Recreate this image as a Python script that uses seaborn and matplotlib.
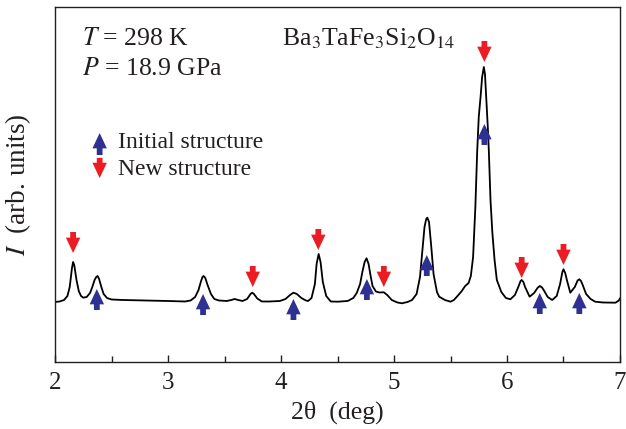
import matplotlib
matplotlib.use("Agg")
import matplotlib.pyplot as plt
import seaborn as sns
import pandas as pd

# ---- data (intensity in arbitrary units) ----
two_theta = [2.00, 2.04, 2.08, 2.11, 2.13, 2.15, 2.16, 2.17, 2.19, 2.21, 2.23, 2.25,
             2.28, 2.31, 2.33, 2.35, 2.365, 2.377, 2.39, 2.41, 2.43, 2.46, 2.50, 2.60,
             2.80, 3.00, 3.15, 3.20, 3.24, 3.27, 3.29, 3.305, 3.315, 3.33, 3.35, 3.38,
             3.41, 3.45, 3.52, 3.56, 3.59, 3.62, 3.66, 3.70, 3.73, 3.745, 3.76, 3.79,
             3.83, 3.90, 3.99, 4.04, 4.08, 4.11, 4.14, 4.18, 4.22, 4.24, 4.27, 4.30,
             4.315, 4.333, 4.35, 4.37, 4.40, 4.44, 4.50, 4.59, 4.64, 4.67, 4.70, 4.72,
             4.74, 4.757, 4.775, 4.79, 4.81, 4.84, 4.87, 4.91, 4.94, 4.98, 5.03, 5.07,
             5.12, 5.16, 5.20, 5.23, 5.25, 5.27, 5.285, 5.295, 5.31, 5.33, 5.35, 5.38,
             5.40, 5.45, 5.50, 5.53, 5.57, 5.60, 5.63, 5.66, 5.68, 5.70, 5.72, 5.736,
             5.75, 5.766, 5.78, 5.795, 5.805, 5.816, 5.83, 5.839, 5.854, 5.87, 5.89,
             5.91, 5.95, 5.99, 6.03, 6.07, 6.10, 6.12, 6.13, 6.145, 6.16, 6.20, 6.24,
             6.27, 6.29, 6.31, 6.33, 6.36, 6.40, 6.44, 6.47, 6.49, 6.50, 6.515, 6.53,
             6.56, 6.60, 6.625, 6.64, 6.655, 6.67, 6.70, 6.74, 6.78, 6.85, 6.96, 6.99, 7.00]
intensity = [0.0, 0.5, 2.0, 6.0, 15.0, 34.0, 40.0, 37.0, 22.0, 11.0, 6.0, 4.3,
             5.0, 9.0, 15.0, 22.0, 25.0, 26.0, 23.0, 15.0, 8.0, 4.0, 2.5, 2.0,
             1.5, 1.0, 0.5, 1.5, 5.0, 12.0, 20.0, 25.0, 26.0, 24.0, 17.0, 8.0,
             3.0, 1.5, 1.0, 2.0, 3.0, 2.0, 1.0, 3.0, 8.0, 9.3, 8.0, 3.5,
             0.5, 0.5, 1.0, 3.0, 7.0, 9.3, 8.0, 4.0, 1.5, 1.0, 4.0, 18.0,
             38.0, 48.0, 40.0, 20.0, 6.0, 0.5, 0.3, 1.0, 4.0, 9.0, 18.0, 30.0,
             40.0, 43.7, 38.0, 28.0, 16.0, 10.5, 9.5, 9.7, 7.0, 2.0, -0.5, -1.3,
             0.0, 2.0, 8.0, 25.0, 50.0, 75.0, 83.0, 84.3, 80.0, 55.0, 28.0, 10.0,
             5.3, 2.0, 0.3, 2.0, 7.0, 11.0, 16.0, 19.0, 26.0, 45.0, 95.0, 150.0,
             185.0, 205.0, 225.0, 235.0, 228.0, 205.0, 175.0, 152.0, 102.0, 70.0, 42.0,
             22.0, 10.0, 4.0, 2.7, 7.0, 15.0, 21.0, 22.0, 20.0, 15.0, 5.3, 9.0,
             14.0, 16.0, 14.5, 11.0, 5.0, 2.0, 6.0, 18.0, 30.0, 32.7, 29.0, 22.0,
             9.3, 15.0, 21.5, 22.7, 21.0, 17.0, 8.0, 3.0, 0.3, -0.5, -0.7, 1.5, 3.7]

# peak markers: position and arrow-tip height
new_pos = [2.16, 3.75, 4.33, 4.91, 5.80, 6.13, 6.50]
new_tip = [49, 15, 52, 15, 240, 24, 37]
initial_pos = [2.37, 3.31, 4.11, 4.76, 5.29, 5.80, 6.29, 6.64]
initial_tip = [13, 8, 3, 23, 47, 178, 9, 9]

RED = "#ec1c24"
BLUE = "#2e3192"
ARROW_LEN = 21
TXT = "#231f20"

sns.set_theme(style="white")
plt.rcParams["font.family"] = ["Liberation Serif", "DejaVu Serif"]
plt.rcParams["mathtext.fontset"] = "stix"

fig = plt.figure(figsize=(6.26, 4.29), dpi=100)
ax = fig.add_axes([0.0879, 0.1562, 0.9025, 0.8275])

df = pd.DataFrame({"two_theta": two_theta, "intensity": intensity})
sns.lineplot(data=df, x="two_theta", y="intensity", sort=False, color="black",
             linewidth=1.3, ax=ax)

astyle = "simple,head_width=0.8,head_length=0.85,tail_width=0.32"
akw = dict(arrowstyle=astyle, lw=0, mutation_scale=13, shrinkA=0, shrinkB=0)
for x, tip in zip(new_pos, new_tip):
    ax.annotate("", xy=(x, tip), xytext=(x, tip + ARROW_LEN),
                arrowprops=dict(color=RED, **akw))
for x, tip in zip(initial_pos, initial_tip):
    ax.annotate("", xy=(x, tip), xytext=(x, tip - ARROW_LEN),
                arrowprops=dict(color=BLUE, **akw))

# legend drawn by hand (arrows + text)
ax.annotate("", xy=(0.079, 0.645), xytext=(0.079, 0.583), xycoords="axes fraction",
            arrowprops=dict(color=BLUE, **akw))
ax.annotate("", xy=(0.079, 0.518), xytext=(0.079, 0.575), xycoords="axes fraction",
            arrowprops=dict(color=RED, **akw))
ax.text(0.111, 0.617, "Initial structure", transform=ax.transAxes, fontsize=17,
        va="center", ha="left", color=TXT)
ax.text(0.111, 0.541, "New structure", transform=ax.transAxes, fontsize=17,
        va="center", ha="left", color=TXT)

ax.text(0.048, 0.893, r"$T$ = 298 K", transform=ax.transAxes, fontsize=18.5,
        va="baseline", ha="left", color=TXT)
ax.text(0.048, 0.808, r"$P$ = 18.9 GPa", transform=ax.transAxes, fontsize=18.5,
        va="baseline", ha="left", color=TXT)
ax.text(0.402, 0.893,
        r"Ba$_\mathrm{3}$TaFe$_\mathrm{3}$Si$_\mathrm{2}$O$_\mathrm{14}$",
        transform=ax.transAxes, fontsize=18.5, va="baseline", ha="left", color=TXT)

ax.set_xlim(2, 7)
ax.set_ylim(-60, 295)
ax.set_xticks([2, 3, 4, 5, 6, 7])
ax.set_xticks([2.5, 3.5, 4.5, 5.5, 6.5], minor=True)
ax.set_yticks([])
ax.tick_params(axis="x", which="both", direction="in", bottom=True, top=False,
               labelsize=18, pad=7, colors=TXT)
ax.tick_params(axis="x", which="major", length=5, width=1)
ax.tick_params(axis="x", which="minor", length=4, width=1)
ax.set_xlabel(r"2θ  (deg)", fontsize=18.5, labelpad=5, color=TXT)
ax.set_ylabel(r"$I$  (arb. units)", fontsize=19.5, color=TXT)
ax.yaxis.set_label_coords(-0.039, 0.5)
for s in ax.spines.values():
    s.set_linewidth(1.0)
    s.set_color(TXT)

fig.savefig("out.png", dpi=100)
